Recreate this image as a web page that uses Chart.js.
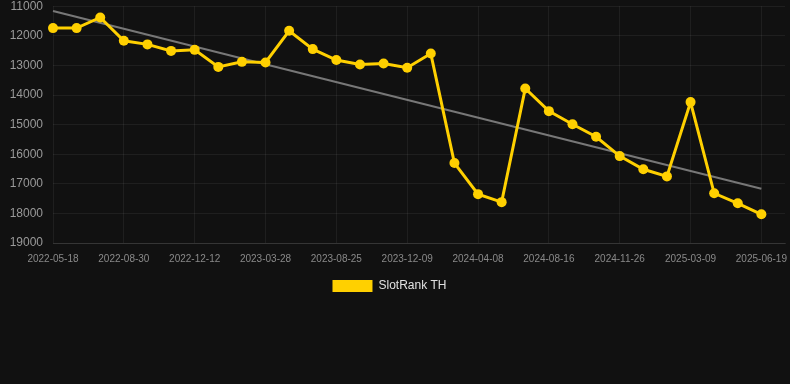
<!DOCTYPE html>
<html>
<head>
<meta charset="utf-8">
<script src="https://cdn.jsdelivr.net/npm/chart.js@4/dist/chart.umd.min.js"></script>
<style>
  html, body { margin: 0; padding: 0; background: #111111; overflow: hidden; width: 790px; height: 384px; }
  #wrap { position: absolute; left: 0; top: -11px; width: 801px; height: 313px; }
</style>
</head>
<body>
<div id="wrap"><canvas id="c"></canvas></div>
<script>
const categories = [
  '2022-05-18','2022-06-22','2022-07-26','2022-08-30','2022-10-04','2022-11-07',
  '2022-12-12','2023-01-16','2023-02-21','2023-03-28','2023-05-17','2023-07-06',
  '2023-08-25','2023-09-30','2023-11-04','2023-12-09','2024-01-19','2024-02-28',
  '2024-04-08','2024-05-19','2024-07-04','2024-08-16','2024-09-19','2024-10-23',
  '2024-11-26','2024-12-30','2025-02-03','2025-03-09','2025-04-12','2025-05-16',
  '2025-06-19',''
];
const rankValues = [
  11740, 11740, 11380, 12170, 12290, 12510,
  12475, 13050, 12880, 12900, 11830, 12450,
  12820, 12970, 12935, 13080, 12600, 16300,
  17350, 17620, 13780, 14545, 14990, 15410,
  16065, 16510, 16750, 14240, 17320, 17660,
  18030, null
];
const trendValues = [
  11160, null, null, null, null, null, null, null, null, null, null, null,
  null, null, null, null, null, null, null, null, null, null, null, null,
  null, null, null, null, null, null, 17170, null
];
const yTicks = [11000, 12000, 13000, 14000, 15000, 16000, 17000, 18000, 19000];

const FONT = "'Liberation Sans', Arial, Helvetica, sans-serif";
const GOLD = 'rgb(255, 208, 0)';

new Chart(document.getElementById('c'), {
  type: 'line',
  data: {
    labels: categories,
    datasets: [
      {
        label: 'SlotRank TH',
        data: rankValues,
        borderColor: GOLD,
        backgroundColor: GOLD,
        pointBackgroundColor: GOLD,
        pointBorderColor: GOLD,
        borderWidth: 3,
        pointRadius: 5,
        pointBorderWidth: 0,
        tension: 0,
        order: 1
      },
      {
        label: 'trend',
        data: trendValues,
        borderColor: 'rgba(125,125,125,0.95)',
        backgroundColor: 'rgba(125,125,125,0.95)',
        borderWidth: 2,
        pointRadius: 0,
        spanGaps: true,
        tension: 0,
        order: 2
      }
    ]
  },
  options: {
    responsive: true,
    maintainAspectRatio: false,
    animation: false,
    layout: { padding: { left: -6, right: 16, top: 0, bottom: 0 } },
    plugins: {
      legend: {
        position: 'bottom',
        labels: {
          color: '#e0e0e0',
          padding: 5,
          font: { family: FONT, size: 12 },
          boxWidth: 40,
          boxHeight: 12,
          generateLabels: (chart) => {
            const items = Chart.defaults.plugins.legend.labels.generateLabels(chart);
            return items
              .filter(it => it.text === 'SlotRank TH')
              .map(it => Object.assign(it, { lineWidth: 0, fillStyle: GOLD, strokeStyle: GOLD }));
          }
        }
      },
      tooltip: { enabled: false }
    },
    scales: {
      x: {
        offset: false,
        grid: { color: 'rgba(255,255,255,0.06)', drawTicks: false },
        border: { color: 'rgba(255,255,255,0.1)' },
        ticks: {
          autoSkip: false,
          maxRotation: 0,
          padding: 10,
          color: '#8a8a8a',
          font: { family: FONT, size: 10 },
          callback: function(value, index) {
            return index % 3 === 0 ? this.getLabelForValue(value) : null;
          }
        }
      },
      y: {
        reverse: true,
        min: yTicks[0],
        max: yTicks[yTicks.length - 1],
        afterBuildTicks: (axis) => { axis.ticks = yTicks.map(v => ({ value: v })); },
        afterFit: (axis) => { axis.width = 59; },
        grid: { color: 'rgba(255,255,255,0.06)', drawTicks: false },
        border: { display: false },
        ticks: {
          padding: 10,
          color: '#9a9a9a',
          font: { family: FONT, size: 12 },
          callback: (v) => String(v)
        }
      }
    }
  }
});
</script>
</body>
</html>
